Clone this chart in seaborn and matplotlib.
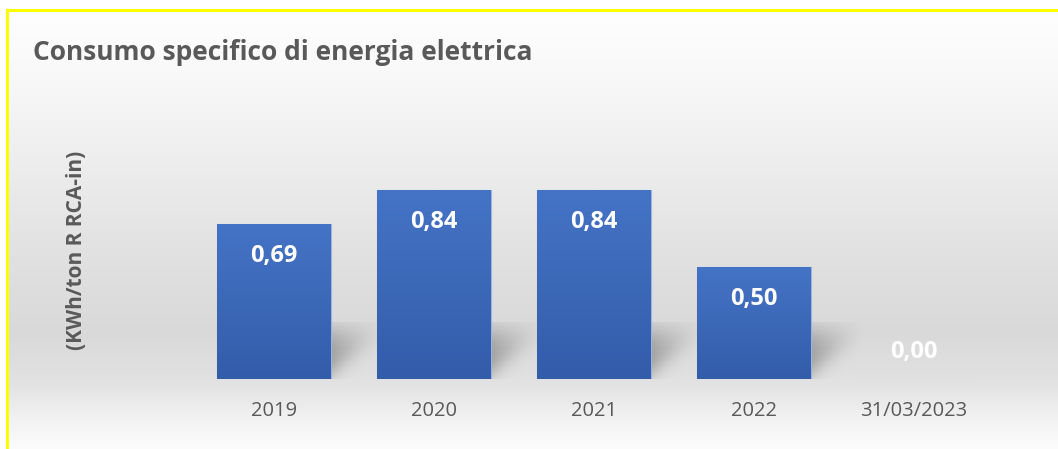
import numpy as np
import pandas as pd
import matplotlib
matplotlib.use("Agg")
import matplotlib.pyplot as plt
import seaborn as sns

# Specific electricity consumption per year
categories = ["2019", "2020", "2021", "2022", "31/03/2023"]
values = [0.69, 0.84, 0.84, 0.50, 0.00]
value_labels = ["0,69", "0,84", "0,84", "0,50", "0,00"]

title = "Consumo specifico di energia elettrica"
y_label = "(KWh/ton R RCA-in)"

sns.set_theme(style="white")
plt.rcParams["font.family"] = ["Open Sans", "DejaVu Sans"]

W, H = 1058, 449
fig = plt.figure(figsize=(W / 100, H / 100), dpi=100)
fig.patch.set_facecolor("white")

# --- background panel: vertical grey gradient and yellow frame (pixel coords)
bg = fig.add_axes([0, 0, 1, 1], zorder=-5)
bg.set_xlim(0, W)
bg.set_ylim(H, 0)
bg.axis("off")
ys = np.arange(H)
stops_y = [12, 60, 150, 250, 330, 380, 420, 449]
stops_c = [253, 249, 238, 225, 217, 226, 243, 252]
grey = np.interp(ys, stops_y, stops_c) / 255.0
grad = np.repeat(grey[:, None], 2, axis=1)
bg.imshow(np.dstack([grad, grad, grad]), extent=[9, W, H, 12], aspect="auto",
          interpolation="bilinear", zorder=0)
bg.fill_between([6, W], 9, 12, color="#ffff00", lw=0, zorder=2)
bg.fill_between([6, 9], 9, H, color="#ffff00", lw=0, zorder=2)

# --- main plot
ax = fig.add_axes([194 / W, (H - 379) / H, 800 / W, 225 / H])
ax.set_facecolor("none")
df = pd.DataFrame({"cat": categories, "val": values})
sns.barplot(data=df, x="cat", y="val", ax=ax, color="#3d68b8", width=0.71,
            saturation=1, edgecolor="#9fb4dc", linewidth=0.8, zorder=3)

# vertical gradient fill on each bar
blue_top = np.array([0x45, 0x73, 0xc5]) / 255.0
blue_bot = np.array([0x33, 0x5d, 0xab]) / 255.0
t = np.linspace(0, 1, 64)[:, None]
bar_grad = (blue_top * (1 - t) + blue_bot * t)[:, None, :]
for patch in ax.patches:
    x0, y0 = patch.get_x(), patch.get_y()
    w, h = patch.get_width(), patch.get_height()
    if h <= 0:
        continue
    im = ax.imshow(bar_grad, extent=[x0, x0 + w, y0, y0 + h], aspect="auto",
                   interpolation="bilinear", zorder=3.5)
    im.set_clip_path(patch)

# soft floor shadow to the right of each bar
nu, nv = 100, 80
u = np.linspace(0, 1, nu)[None, :]
v = np.linspace(1, 0, nv)[:, None]
sig = lambda z: 1 / (1 + np.exp(-z))
alpha = (0.30 * np.clip(1 - u, 0, 1) ** 1.0
         * sig((v - 0.75 * u - 0.10) / 0.12)
         * sig((0.80 - v) / 0.14))
shadow = np.zeros((nv, nu, 4))
shadow[..., 3] = np.clip(alpha, 0, 1)
for patch in ax.patches:
    if patch.get_height() <= 0:
        continue
    xr = patch.get_x() + patch.get_width()
    ax.imshow(shadow, extent=[xr, xr + 0.34, 0, 0.25], aspect="auto",
              interpolation="bilinear", zorder=2)
ax.set_xlim(-0.5, len(categories) - 0.5)
ax.set_ylim(0, 1.0)

# value labels
for i, (v_, lab) in enumerate(zip(values, value_labels)):
    off = -32 if v_ > 0 else 27
    ax.annotate(lab, (i, v_), xytext=(0, off), textcoords="offset pixels",
                ha="center", va="center", color="white", fontsize=17,
                fontweight="bold", zorder=5)

sns.despine(ax=ax, left=True, bottom=True)
ax.set_yticks([])
ax.set_xlabel("")
ax.set_ylabel("")
ax.tick_params(axis="x", length=0, pad=16, labelsize=14.5, labelcolor="#595959")

fig.text(33 / W, 1 - 53 / H, title, fontsize=19, fontweight="bold",
         color="#595959", ha="left", va="center")
fig.text(76 / W, 1 - 250 / H, y_label, fontsize=15, fontweight="bold",
         color="#595959", rotation=90, ha="center", va="center")

fig.savefig("out.png", dpi=100)
